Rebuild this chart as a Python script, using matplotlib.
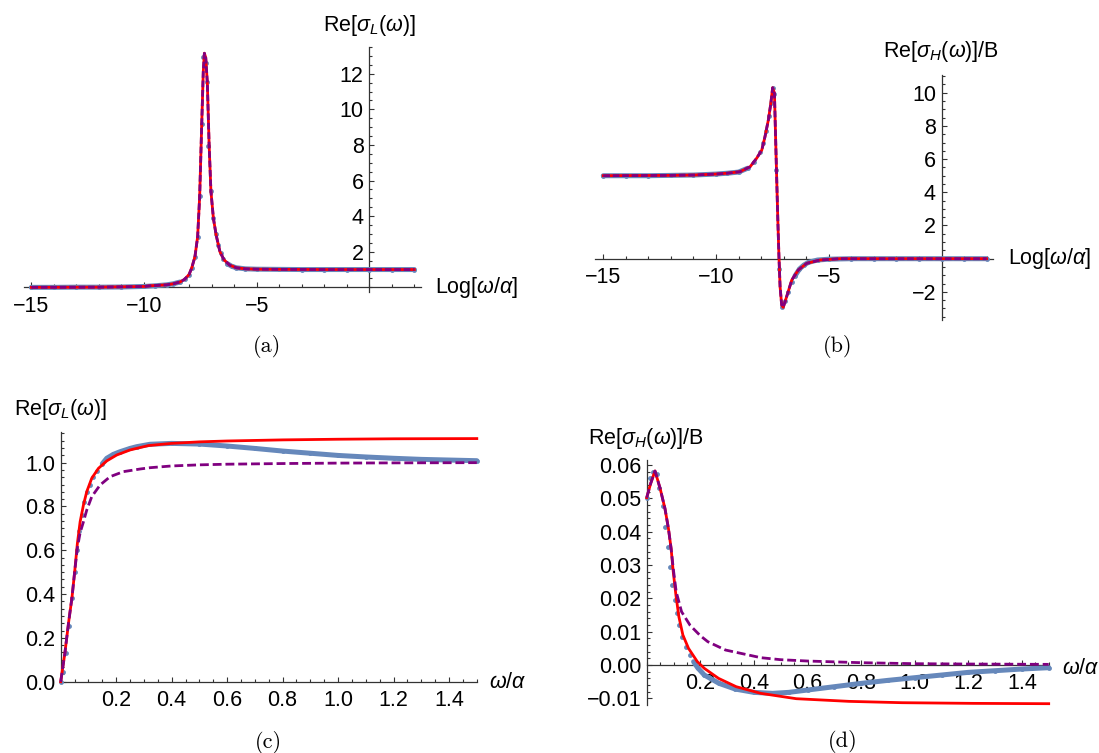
import matplotlib
matplotlib.use('Agg')
import matplotlib.pyplot as plt
from matplotlib.ticker import FixedLocator, MultipleLocator, FuncFormatter

plt.rcParams['font.family'] = ['Liberation Sans', 'DejaVu Sans']
plt.rcParams['mathtext.fontset'] = 'custom'
plt.rcParams['mathtext.rm'] = 'Liberation Sans'
plt.rcParams['mathtext.it'] = 'Liberation Sans:italic'
plt.rcParams['mathtext.bf'] = 'Liberation Sans:bold'

# ---- (a) Re[sigma_L] vs Log[w/a] ----
a_line_x = [-15, -12, -10, -9.7, -9.0, -8.7, -8.4, -8.2, -8.0, -7.88, -7.74, -7.62, -7.53,
            -7.44, -7.37, -7.32, -7.26, -7.19, -7.11, -7.03, -6.92, -6.8, -6.63, -6.45,
            -6.2, -5.9, -5.5, -5.0, -4, -2, 0, 2]
a_red_y = [0.0, 0.01, 0.05, 0.09, 0.14, 0.2, 0.3, 0.45, 0.72, 1.1, 1.72, 2.84, 5.1,
           9.1, 12.1, 13.15, 12.9, 11.5, 8.0, 5.4, 3.88, 2.95, 2.0, 1.55,
           1.25, 1.1, 1.04, 1.02, 1.01, 1.0, 1.0, 1.0]
a_purple_y = a_red_y
a_blue_x = [-15, -14, -13, -12, -11, -10, -9.5, -9, -8.7, -8.4, -8.2, -8.0, -7.86, -7.74,
            -7.62, -7.53, -7.44, -7.36, -7.27, -7.2, -7.14, -7.03, -6.92, -6.82, -6.7,
            -6.6, -6.5, -6.3, -6.1, -5.9, -5.5, -5, -4, -3, -2, -1, 0, 1, 2]
a_blue_y = [0.0, 0.0, 0.01, 0.01, 0.02, 0.05, 0.09, 0.14, 0.2, 0.3, 0.45, 0.72, 1.1, 1.72,
            2.84, 5.13, 9.16, 12.96, 12.6, 11.55, 7.96, 5.41, 3.88, 2.98, 2.38,
            1.91, 1.6, 1.33, 1.18, 1.1, 1.04, 1.02, 1.01, 1.0, 1.0, 1.0, 1.0, 1.0, 1.0]

# ---- (b) Re[sigma_H]/B vs Log[w/a] ----
b_line_x = [-15, -12, -11, -10, -9.5, -8.94, -8.49, -8.2, -7.97, -7.83, -7.68, -7.57, -7.49,
            -7.41, -7.34, -7.26, -7.21, -7.16, -7.09, -7.02, -6.87, -6.64, -6.35, -5.98,
            -5.39, -4.5, -3, 0, 2]
b_red_y = [5.0, 5.02, 5.04, 5.1, 5.15, 5.24, 5.54, 6.05, 6.55, 7.35, 8.36, 9.36, 10.3,
           9.96, 6.35, 2.33, 0.12, -1.69, -2.79, -2.93, -2.29, -1.28, -0.68, -0.28,
           -0.08, 0.0, 0.0, 0.0, 0.0]
b_purple_y = b_red_y
b_blue_x = [-15, -14, -13, -12, -11, -10, -9.5, -9, -8.6, -8.3, -8.05, -7.9, -7.77, -7.66,
            -7.57, -7.49, -7.42, -7.34, -7.19, -7.06, -6.92, -6.79, -6.64, -6.5, -6.3,
            -6.1, -5.9, -5.5, -5, -4, -3, -2, -1, 0, 1, 2]
b_blue_y = [5.0, 5.0, 5.0, 5.02, 5.04, 5.1, 5.15, 5.22, 5.45, 5.85, 6.4, 7.0, 7.7, 8.6,
            9.36, 10.3, 9.9, 5.34, -0.64, -2.93, -2.55, -1.98, -1.38, -1.04, -0.62,
            -0.38, -0.22, -0.08, -0.03, 0.0, 0.0, 0.0, 0.0, 0.0, 0.0, 0.0]

# ---- (c) Re[sigma_L] vs w/a ----
c_red_x = [0, 0.015, 0.028, 0.041, 0.051, 0.06, 0.07, 0.082, 0.094, 0.112, 0.136, 0.166,
           0.202, 0.25, 0.316, 0.4, 0.5, 0.6, 0.8, 1.0, 1.2, 1.5]
c_red_y = [0.0, 0.13, 0.266, 0.388, 0.51, 0.63, 0.73, 0.807, 0.868, 0.929, 0.974, 1.008,
           1.035, 1.058, 1.078, 1.088, 1.095, 1.099, 1.104, 1.107, 1.109, 1.11]
c_purple_x = [0, 0.015, 0.028, 0.041, 0.051, 0.06, 0.07, 0.082, 0.094, 0.112, 0.142, 0.178,
              0.226, 0.286, 0.322, 0.4, 0.5, 0.6, 0.8, 1.0, 1.2, 1.5]
c_purple_y = [0.0, 0.13, 0.266, 0.388, 0.51, 0.61, 0.68, 0.73, 0.784, 0.845, 0.898, 0.936,
              0.959, 0.971, 0.977, 0.985, 0.99, 0.993, 0.996, 0.998, 0.999, 1.0]
c_blue_x = [0.002, 0.009, 0.019, 0.029, 0.039, 0.05, 0.059, 0.066, 0.075, 0.085, 0.096,
            0.107, 0.118, 0.132, 0.15, 0.166, 0.19, 0.214, 0.25, 0.274, 0.322, 0.4, 0.5,
            0.6, 0.7, 0.8, 0.9, 1.0, 1.1, 1.2, 1.3, 1.4, 1.5]
c_blue_y = [0.0, 0.046, 0.132, 0.254, 0.38, 0.5, 0.6, 0.686, 0.76, 0.82, 0.865, 0.9,
            0.936, 0.962, 0.995, 1.02, 1.038, 1.05, 1.065, 1.073, 1.084, 1.088, 1.085,
            1.076, 1.065, 1.053, 1.043, 1.033, 1.026, 1.02, 1.015, 1.012, 1.009]

# ---- (d) Re[sigma_H]/B vs w/a ----
d_red_x = [0, 0.015, 0.031, 0.05, 0.068, 0.081, 0.091, 0.099, 0.109, 0.12, 0.135, 0.156,
           0.189, 0.215, 0.268, 0.334, 0.426, 0.558, 0.755, 0.953, 1.217, 1.5]
d_red_y = [0.0502, 0.0545, 0.0582, 0.053, 0.047, 0.041, 0.035, 0.028, 0.021, 0.0145,
           0.009, 0.005, 0.001, -0.001, -0.004, -0.0065, -0.0085, -0.0101, -0.0109,
           -0.0113, -0.0115, -0.0116]
d_purple_x = [0, 0.015, 0.031, 0.05, 0.068, 0.081, 0.091, 0.099, 0.11, 0.13, 0.162, 0.2,
              0.228, 0.294, 0.426, 0.5, 0.6, 0.8, 1.0, 1.2, 1.5]
d_purple_y = [0.0502, 0.0545, 0.0582, 0.053, 0.047, 0.041, 0.035, 0.029, 0.022, 0.016,
              0.0119, 0.0088, 0.007, 0.0045, 0.0022, 0.0016, 0.0012, 0.0007, 0.0004,
              0.0003, 0.0002]
d_blue_x = [0.0, 0.012, 0.025, 0.037, 0.047, 0.06, 0.0695, 0.078, 0.087, 0.096, 0.105,
            0.113, 0.121, 0.132, 0.145, 0.16, 0.175, 0.19, 0.215, 0.27, 0.33, 0.4, 0.47,
            0.53, 0.6, 0.7, 0.8, 0.9, 1.0, 1.1, 1.2, 1.3, 1.4, 1.5]
d_blue_y = [0.0502, 0.056, 0.0578, 0.0572, 0.053, 0.0478, 0.0415, 0.0355, 0.0295, 0.024,
            0.0195, 0.0155, 0.012, 0.0085, 0.0055, 0.003, 0.001, -0.0008, -0.003,
            -0.0055, -0.0072, -0.0082, -0.0085, -0.0082, -0.0075, -0.0065, -0.0055,
            -0.0046, -0.0038, -0.003, -0.0022, -0.0017, -0.0012, -0.0008]

BLUE = '#6688bb'
RED = '#ff0000'
PURPLE = '#800080'
AXC = '#333333'
FS = 15.5

W, H = 1099, 753
fig = plt.figure(figsize=(W / 100, H / 100), dpi=100)


def box(left, top, right, bottom):
    return [left / W, 1 - bottom / H, (right - left) / W, (bottom - top) / H]


def fmt(dec):
    def f(v, pos):
        return f'{v:.{dec}f}'.replace('-', '\u2212')
    return FuncFormatter(f)


def setup(ax, xlim, ylim, xmaj, xmin, ymaj, ymin, xdec, ydec):
    ax.set_xlim(*xlim)
    ax.set_ylim(*ylim)
    ax.patch.set_alpha(0)
    for s in ['top', 'right']:
        ax.spines[s].set_visible(False)
    for s in ['left', 'bottom']:
        ax.spines[s].set_position(('data', 0))
        ax.spines[s].set_color(AXC)
        ax.spines[s].set_linewidth(0.9)
    ax.xaxis.set_major_locator(FixedLocator(xmaj))
    ax.xaxis.set_minor_locator(MultipleLocator(xmin))
    ax.yaxis.set_major_locator(FixedLocator(ymaj))
    ax.yaxis.set_minor_locator(MultipleLocator(ymin))
    ax.xaxis.set_major_formatter(fmt(xdec))
    ax.yaxis.set_major_formatter(fmt(ydec))
    ax.tick_params(which='both', direction='in', color=AXC, width=0.8, labelsize=FS)
    ax.tick_params(which='major', length=3.5)
    ax.tick_params(which='minor', length=2.0)
    ax.tick_params(axis='x', which='major', pad=6)
    ax.tick_params(axis='y', which='major', pad=4)


def curves(ax, bx, by, rx, ry, px, py, dashes, band):
    # blue points; where the data is flat they run together into a band
    ax.plot(bx, by, ls='none', color=BLUE, marker='o', ms=3.5, mew=0,
            zorder=3, clip_on=False)
    for lo, hi in band:
        seg = [(x, y) for x, y in zip(bx, by) if lo <= x <= hi]
        ax.plot([p[0] for p in seg], [p[1] for p in seg], color=BLUE, lw=3.6,
                solid_capstyle='round', zorder=3, clip_on=False)
    ax.plot(rx, ry, color=RED, lw=2.0, zorder=4, clip_on=False)
    ax.plot(px, py, color=PURPLE, lw=2.0, dashes=dashes, zorder=5, clip_on=False)


def label(px, py, s, ha):
    fig.text(px / W, 1 - py / H, s, ha=ha, va='center', fontsize=FS)


def caption(px, py, s):
    fig.text(px / W, 1 - py / H, s, ha='center', va='center', fontsize=16,
             family='cmr10')


# (a)
ax = fig.add_axes(box(23.5, 47, 421.1, 291.8))
setup(ax, (-15.35, 2.3), (-0.25, 13.5), [-15, -10, -5], 1, [2, 4, 6, 8, 10, 12], 0.5, 0, 0)
curves(ax, a_blue_x, a_blue_y, a_line_x, a_red_y, a_line_x, a_purple_y, (2.4, 1.0),
       [(-15, -8.4), (-6.3, 2)])
label(369.3, 25, r'Re[$\sigma_L(\omega)$]', 'center')
label(435, 288, r'Log[$\omega/\alpha$]', 'left')
caption(267, 347, '(a)')

# (b)
ax = fig.add_axes(box(595.4, 75.3, 993.4, 320.1))
setup(ax, (-15.35, 2.3), (-3.7, 11.05), [-15, -10, -5], 1, [-2, 2, 4, 6, 8, 10], 0.5, 0, 0)
curves(ax, b_blue_x, b_blue_y, b_line_x, b_red_y, b_line_x, b_purple_y, (2.4, 1.0),
       [(-15, -8.6), (-6.5, 2)])
label(941.5, 51.7, r'Re[$\sigma_H(\omega)$]/B', 'center')
label(1008, 258.5, r'Log[$\omega/\alpha$]', 'left')
caption(838, 347, '(b)')

# (c)
ax = fig.add_axes(box(60.7, 432, 476.8, 681.7))
setup(ax, (0, 1.5), (0, 1.14), [0.2, 0.4, 0.6, 0.8, 1.0, 1.2, 1.4], 0.05,
      [0.0, 0.2, 0.4, 0.6, 0.8, 1.0], 0.2 / 6, 1, 1)
curves(ax, c_blue_x, c_blue_y, c_red_x, c_red_y, c_purple_x, c_purple_y, (3.2, 1.4),
       [(0.14, 1.5)])
label(60, 410, r'Re[$\sigma_L(\omega)$]', 'center')
label(489, 683, r'$\omega/\alpha$', 'left')
caption(268.6, 743, '(c)')

# (d)
ax = fig.add_axes(box(646.7, 460, 1048.7, 704.7))
setup(ax, (0, 1.5), (-0.0119, 0.0615), [0.2, 0.4, 0.6, 0.8, 1.0, 1.2, 1.4], 0.05,
      [-0.01, 0.0, 0.01, 0.02, 0.03, 0.04, 0.05, 0.06], 0.002, 1, 2)
curves(ax, d_blue_x, d_blue_y, d_red_x, d_red_y, d_purple_x, d_purple_y, (3.2, 1.4),
       [(0.17, 1.5)])
label(646, 438, r'Re[$\sigma_H(\omega)$]/B', 'center')
label(1062, 668, r'$\omega/\alpha$', 'left')
caption(842.6, 741.7, '(d)')

fig.savefig('out.png', dpi=100)
